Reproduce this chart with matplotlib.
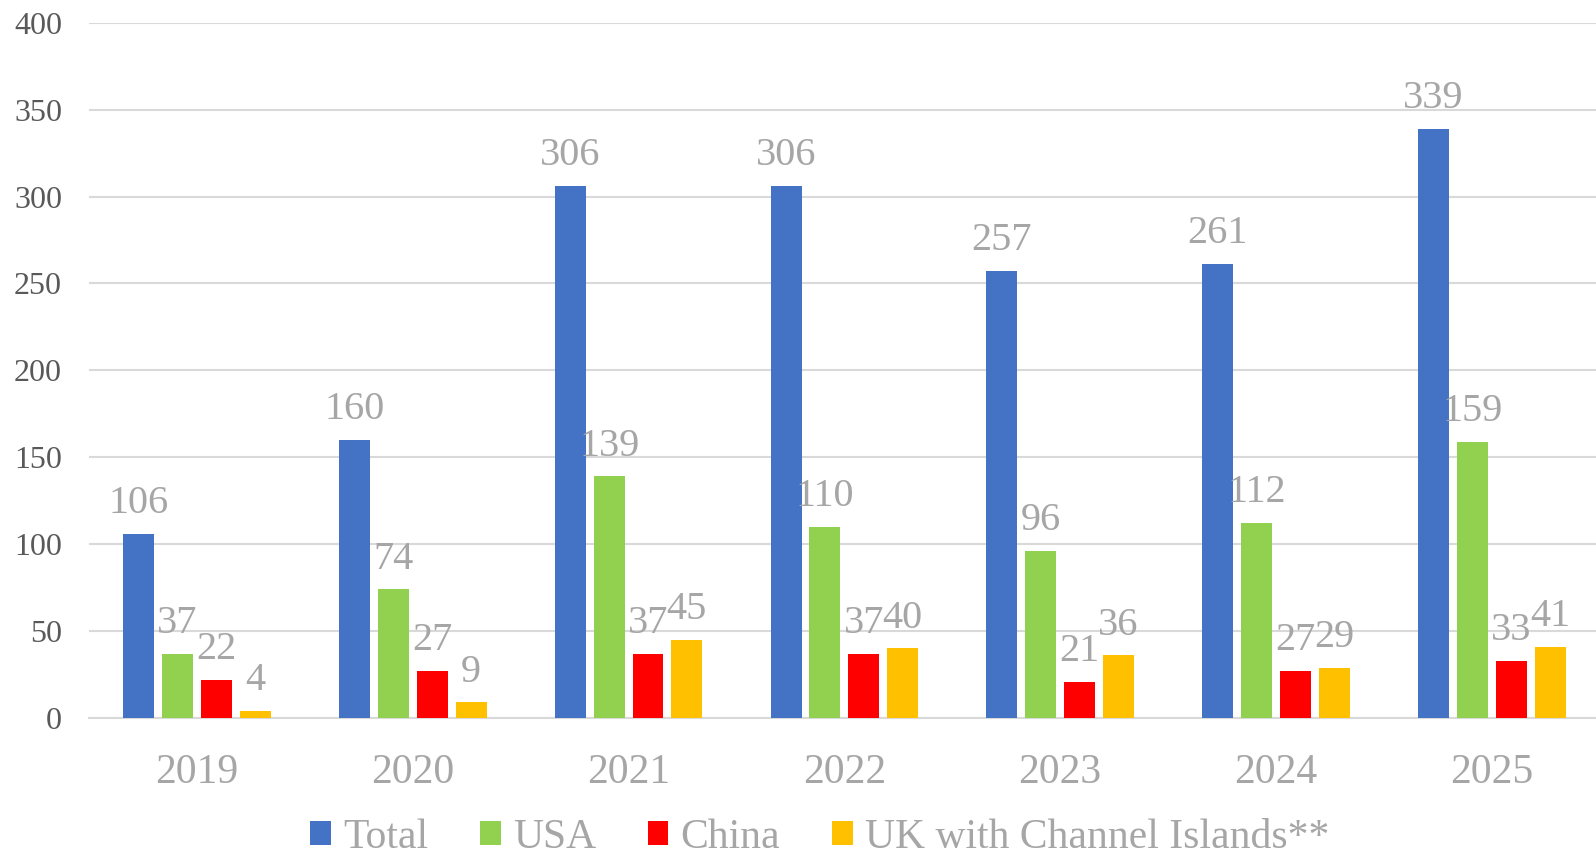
import matplotlib.pyplot as plt
import numpy as np

plt.rcParams['font.family'] = ['Liberation Serif', 'DejaVu Serif']

years = ['2019', '2020', '2021', '2022', '2023', '2024', '2025']
series = ['Total', 'USA', 'China', 'UK with Channel Islands**']
total = [106, 160, 306, 306, 257, 261, 339]
usa = [37, 74, 139, 110, 96, 112, 159]
china = [22, 27, 37, 37, 21, 27, 33]
uk = [4, 9, 45, 40, 36, 29, 41]
colors = ['#4472C4', '#92D050', '#FF0000', '#FFC000']

fig = plt.figure(figsize=(15.96, 8.56), dpi=100)
ax = fig.add_axes([0.0558, 0.1612, 0.9465, 0.8123])

x = np.arange(len(years))
step = 0.18
width = 0.1435
for i, (vals, name, c) in enumerate(zip([total, usa, china, uk], series, colors)):
    pos = x + (i - 1.5) * step
    ax.bar(pos, vals, width, color=c, label=name, zorder=3)
    for px, v in zip(pos, vals):
        ax.annotate(str(v), (px, v), xytext=(0, 15), textcoords='offset points',
                    ha='center', va='baseline', fontsize=29, color='#A6A6A6', zorder=4)

ax.set_ylim(0, 400)
ax.set_xlim(-0.5, 6.5)
ax.set_yticks(range(0, 401, 50))
ax.yaxis.grid(True, color='#D9D9D9', linewidth=1.5, zorder=0)
ax.set_xticks(x)
ax.set_xticklabels(years)
ax.tick_params(axis='y', length=0, labelsize=23, labelcolor='#595959', pad=19.5)
ax.tick_params(axis='x', length=0, labelsize=30, labelcolor='#A6A6A6', pad=25.5)
for s in ['top', 'right', 'left']:
    ax.spines[s].set_visible(False)
ax.spines['bottom'].set_color('#D9D9D9')
ax.spines['bottom'].set_linewidth(1.5)

leg = fig.legend(loc='center', bbox_to_anchor=(0.5135, 0.0215), ncol=4, frameon=False,
                 fontsize=30, handlelength=0.5, handleheight=0.53, handletextpad=0.29,
                 columnspacing=1.24, borderpad=0)
for t in leg.get_texts():
    t.set_color('#A6A6A6')

plt.savefig('out.png', dpi=100)
